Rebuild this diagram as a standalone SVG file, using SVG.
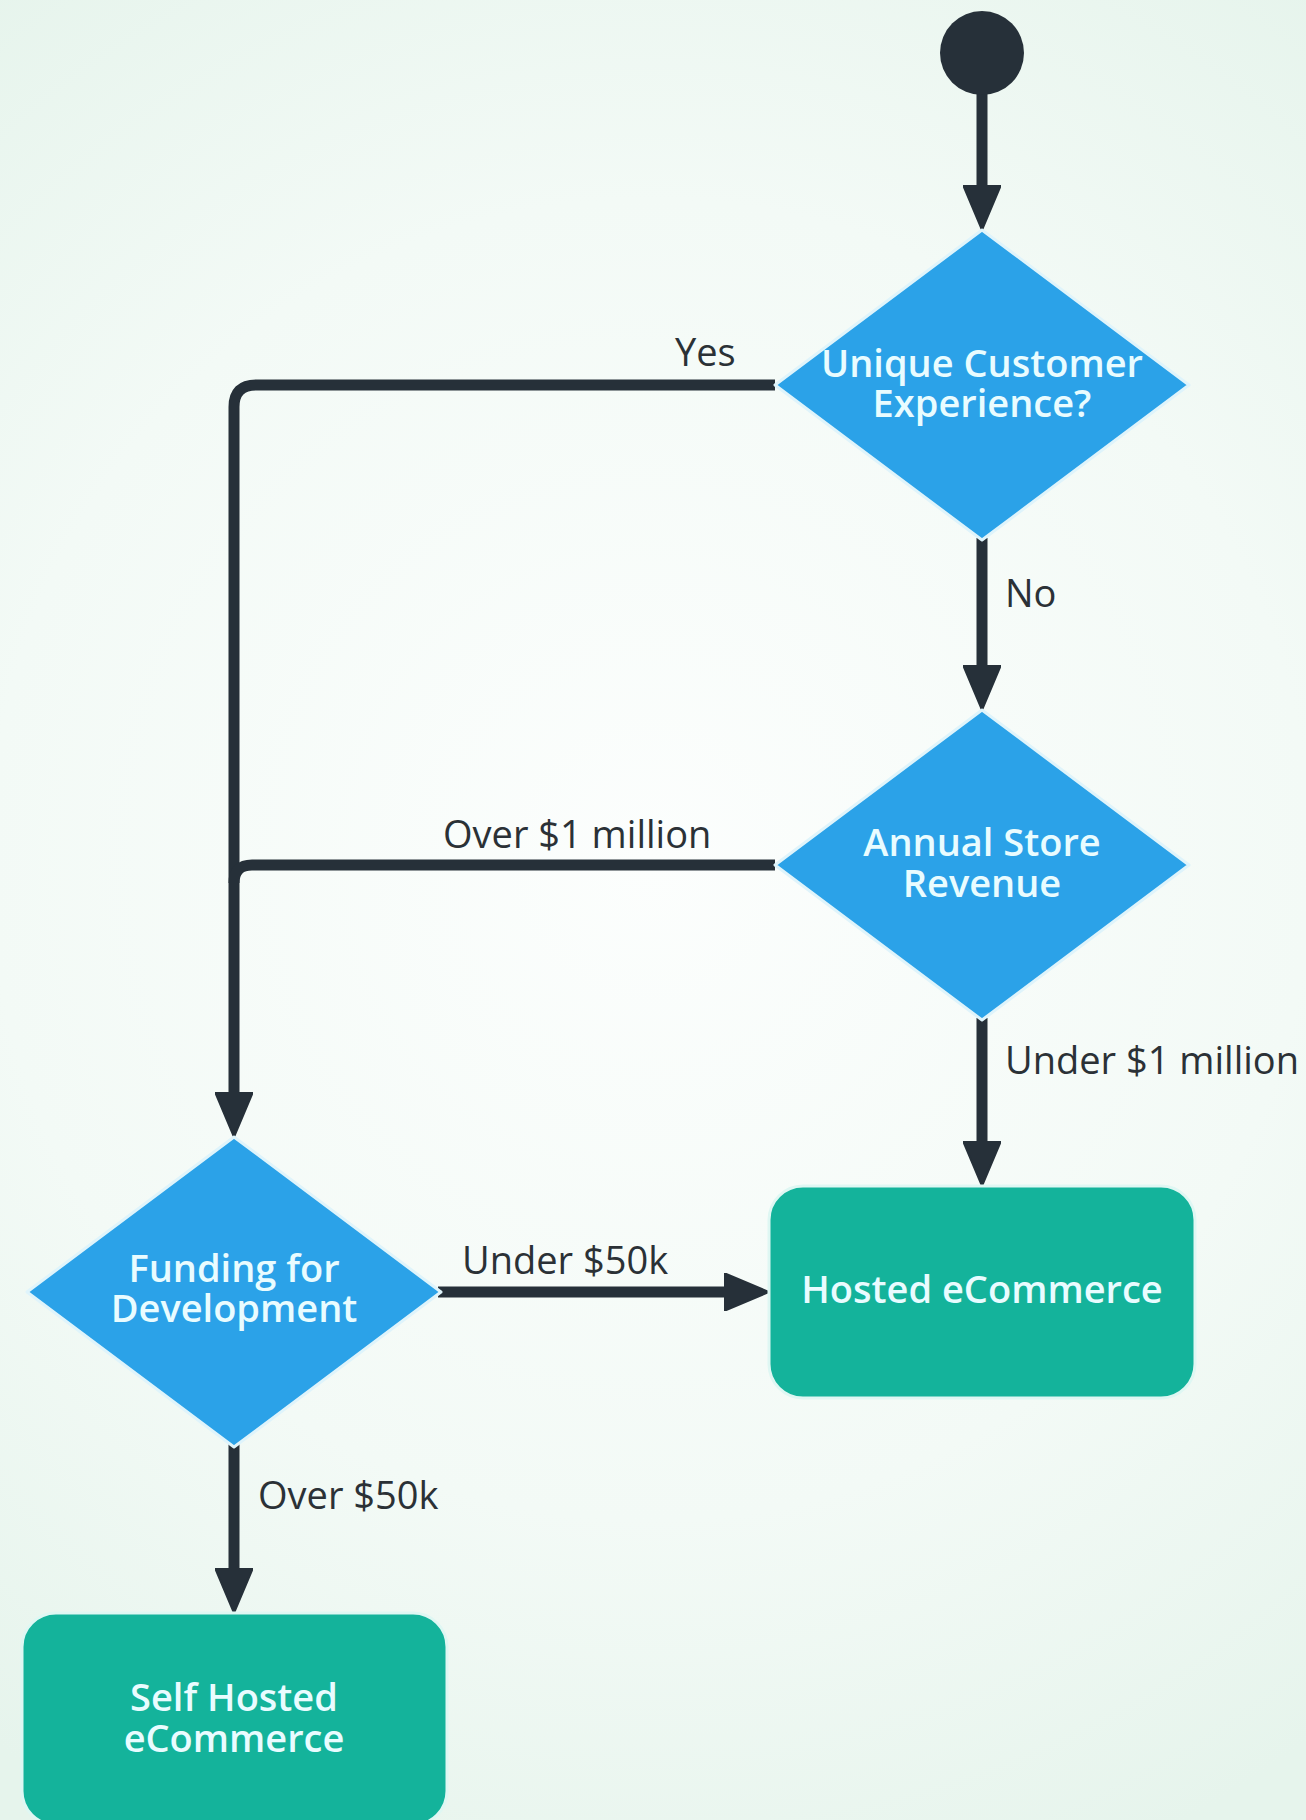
<svg xmlns="http://www.w3.org/2000/svg" width="1306" height="1820" viewBox="0 0 1306 1820">
  <defs>
    <radialGradient id="bg" cx="650" cy="860" r="1100" gradientUnits="userSpaceOnUse">
      <stop offset="0" stop-color="#fcfefd"/>
      <stop offset="0.6" stop-color="#f3faf6"/>
      <stop offset="1" stop-color="#e6f4ec"/>
    </radialGradient>
    <marker id="arrow" viewBox="0 0 45 38" markerWidth="45" markerHeight="38" refX="20" refY="19" orient="auto" markerUnits="userSpaceOnUse">
      <path d="M0,0 L45,19 L0,38 Z" fill="#263039" stroke="#263039" stroke-width="2" stroke-linejoin="round"/>
    </marker>
    <style>
      .decision { fill: #2ba2e8; stroke: #dff4fb; stroke-width: 3; stroke-linejoin: round; }
      .terminal { fill: #14b39b; stroke: #dff7f3; stroke-width: 3; }
      .start { fill: #263039; }
      .ntext { font-family: "Open Sans", "Liberation Sans", sans-serif; font-weight: 600; font-size: 38px; fill: #e9fcff; text-anchor: middle; }
      .label { font-family: "Open Sans", "Liberation Sans", sans-serif; font-weight: 500; font-size: 38px; fill: #2b3136; }
      .conn { fill: none; stroke: #263039; stroke-width: 11; }
    </style>
  </defs>

  <rect x="0" y="0" width="1306" height="1820" fill="url(#bg)"/>

  <g id="connectors">
    <path class="conn" d="M982,92 V205" marker-end="url(#arrow)"/>
    <path class="conn" d="M775,385 H256 Q234,385 234,407 V1112" marker-end="url(#arrow)"/>
    <path class="conn" d="M775,865 H252 Q234,865 234,883"/>
    <path class="conn" d="M982,538 V685" marker-end="url(#arrow)"/>
    <path class="conn" d="M982,1018 V1161" marker-end="url(#arrow)"/>
    <path class="conn" d="M438,1292 H744" marker-end="url(#arrow)"/>
    <path class="conn" d="M234,1443 V1588" marker-end="url(#arrow)"/>
    <text class="label" x="675" y="366">Yes</text>
    <text class="label" x="1005" y="607">No</text>
    <text class="label" x="443" y="848">Over $1 million</text>
    <text class="label" x="1005" y="1074">Under $1 million</text>
    <text class="label" x="462" y="1274">Under $50k</text>
    <text class="label" x="258" y="1509">Over $50k</text>
  </g>

  <g id="start">
    <circle class="start" cx="982" cy="53" r="42"/>
  </g>

  <g id="unique-customer-experience">
    <polygon class="decision" points="982,230 1189,385 982,540 775,385"/>
    <text class="ntext" x="982" y="377">Unique Customer</text>
    <text class="ntext" x="982" y="417">Experience?</text>
  </g>

  <g id="annual-store-revenue">
    <polygon class="decision" points="982,710 1189,865 982,1020 775,865"/>
    <text class="ntext" x="982" y="856">Annual Store</text>
    <text class="ntext" x="982" y="897">Revenue</text>
  </g>

  <g id="funding-for-development">
    <polygon class="decision" points="234,1137 441,1292 234,1447 27,1292"/>
    <text class="ntext" x="234" y="1282">Funding for</text>
    <text class="ntext" x="234" y="1322">Development</text>
  </g>

  <g id="hosted-ecommerce">
    <rect class="terminal" x="769" y="1186" width="426" height="212" rx="34" ry="34"/>
    <text class="ntext" x="982" y="1303">Hosted eCommerce</text>
  </g>

  <g id="self-hosted-ecommerce">
    <rect class="terminal" x="22" y="1613" width="425" height="212" rx="34" ry="34"/>
    <text class="ntext" x="234" y="1711">Self Hosted</text>
    <text class="ntext" x="234" y="1752">eCommerce</text>
  </g>
</svg>
